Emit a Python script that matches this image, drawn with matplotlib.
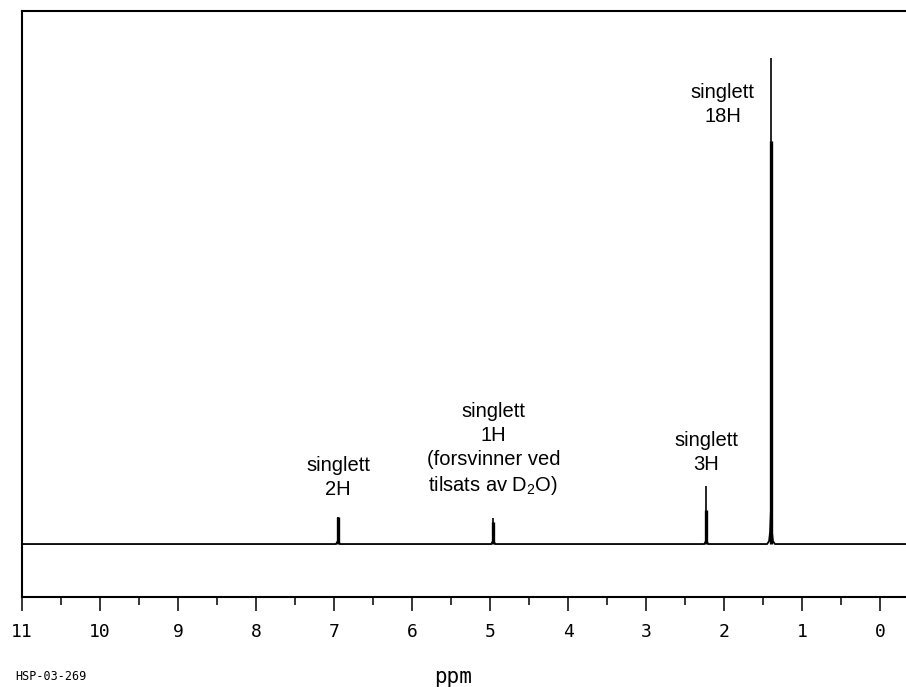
import matplotlib
matplotlib.use("Agg")
import matplotlib.pyplot as plt
from matplotlib.ticker import MultipleLocator

# peak positions (ppm) and heights (relative, tallest = 100)
peak_ppm = [6.95, 4.96, 2.23, 1.40]
peak_height = [5.6, 5.3, 11.9, 100.0]
# thick (unresolved) part of each peak
peak_thick = [5.6, 4.6, 7.0, 83.0]

# small base shoulders around each peak
base_offsets = [0.05, 0.025, 0.012, 0.0, -0.012, -0.025, -0.05]
small_base = [0.0, 0.0, 0.4, 0.6, 0.4, 0.0, 0.0]
big_base = [0.0, 0.6, 2.5, 7.4, 2.5, 0.6, 0.0]

labels = [
    ("singlett\n2H", 6.95, 9.3),
    ("singlett\n1H\n(forsvinner ved\ntilsats av D$_2$O)", 4.96, 9.6),
    ("singlett\n3H", 2.23, 14.4),
    ("singlett\n18H", 2.02, 86.0),
]

xticks = list(range(0, 12))

# build the trace
ppm = [11.2]
inten = [0.0]
for p, h in zip(peak_ppm, peak_height):
    shape = big_base if h == 100.0 else small_base
    for off, s in zip(base_offsets, shape):
        ppm.append(p + off)
        inten.append(s)
ppm.append(-0.5)
inten.append(0.0)

plt.rcParams['font.family'] = ['Liberation Sans', 'DejaVu Sans']
plt.rcParams['mathtext.fontset'] = 'custom'
plt.rcParams['mathtext.rm'] = 'Liberation Sans'

fig = plt.figure(figsize=(9.06, 6.87), dpi=100)
ax = fig.add_axes([22 / 906, 90 / 687, 1 - 22 / 906, 586 / 687])

ax.plot(ppm, inten, color="black", lw=1.3)
ax.vlines(peak_ppm, 0, peak_height, color="black", lw=1.2)
ax.vlines(peak_ppm, 0, peak_thick, color="black", lw=2.4)

for txt, x, y in labels:
    ax.text(x, y, txt, ha="center", va="bottom", fontsize=14.5, linespacing=1.32)

ax.set_xlim(11.0, -0.33)
ax.set_ylim(-10.9, 109.7)
ax.xaxis.set_minor_locator(MultipleLocator(0.5))
ax.set_xticks(xticks)
ax.set_xticklabels([str(t) for t in xticks], family="DejaVu Sans Mono", fontsize=13)
ax.set_yticks([])
ax.spines["right"].set_visible(False)
for s in ["left", "top", "bottom"]:
    ax.spines[s].set_linewidth(1.5)
ax.tick_params(axis="x", which="major", length=10, width=1.1, direction="out", pad=9)
ax.tick_params(axis="x", which="minor", length=5.5, width=1.1, direction="out")

fig.text(453 / 906, 1 - 677 / 687, "ppm", ha="center", va="center", fontsize=15,
         family="DejaVu Sans Mono")
fig.text(15 / 906, 1 - 677 / 687, "HSP-03-269", ha="left", va="center", fontsize=8.5,
         family="DejaVu Sans Mono")

fig.savefig("out.png", dpi=100)
